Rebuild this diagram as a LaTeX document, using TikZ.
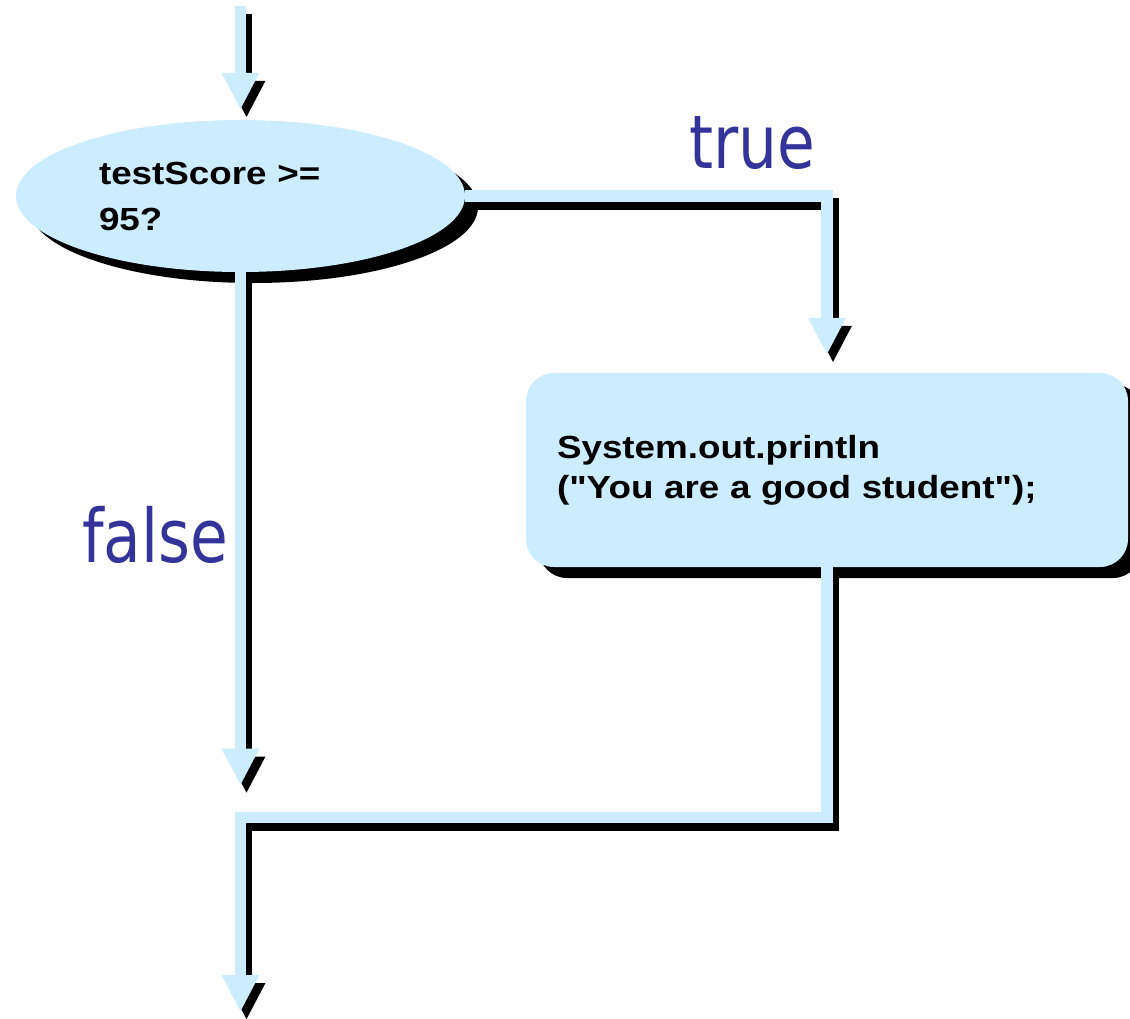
\documentclass[tikz,border=0pt]{standalone}
\usepackage{fontspec}
\setmainfont{Liberation Sans}
\newfontfamily\codefont[FakeStretch=1.15]{Liberation Sans}
\newfontfamily\branchfont[FakeStretch=0.83]{DejaVu Sans}
\usetikzlibrary{shapes.geometric, arrows.meta, shadows, positioning}
\definecolor{flowblue}{RGB}{204,236,255}
\definecolor{branchblue}{RGB}{51,51,153}

\begin{document}
\begin{tikzpicture}[
    x=1pt, y=-1pt,
    shade/.style={drop shadow={fill=black, opacity=1,
                  shadow xshift=13pt, shadow yshift=-11pt}},
    decision/.style={ellipse, fill=flowblue, shade, minimum width=449pt,
                     minimum height=152pt, inner sep=0pt, text width=283pt,
                     align=left, font=\codefont\bfseries\fontsize{32}{46}\selectfont},
    action/.style={rectangle, rounded corners=28pt, fill=flowblue, shade,
                   minimum width=602pt, minimum height=194pt, inner sep=0pt,
                   text width=540pt, align=left,
                   font=\codefont\bfseries\fontsize{32}{40}\selectfont},
    flow/.style={draw=flowblue, line width=11.5pt,
                 -{Triangle[length=37pt, width=35pt]},
                 preaction={draw=black, line width=11.5pt,
                            transform canvas={xshift=6pt, yshift=-8pt}}},
    branch/.style={text=branchblue, inner sep=0pt, anchor=base west,
                   font=\branchfont\fontsize{74}{74}\selectfont},
]
\useasboundingbox (0,0) rectangle (1130,1018);

% ── Nodes ──────────────────────────────────────────────────────────────
\node[decision] (cond) at (240.5,196) {testScore >=\\95?};
\node[action]   (act)  at (827,470)
      {System.out.println\\("You are a good student");};

\coordinate (entry) at (240.5,6);
\coordinate (merge) at (240.5,817.5);
\coordinate (exit)  at (240.5,1012);

% ── Labels ─────────────────────────────────────────────────────────────
\node[branch] (truelbl)  at (689,168) {true};
\node[branch] (falselbl) at (82,562)  {false};

% ── Arrows ─────────────────────────────────────────────────────────────
\draw[flow, shorten >=10pt] (entry) -- (cond.north);
\draw[flow, shorten >=18pt] (cond.east) -| (act.north);
\draw[flow, shorten >=32pt] (cond.south) -- (merge);
\draw[flow] (act.south) |- (merge) -- (exit);

\end{tikzpicture}
\end{document}
